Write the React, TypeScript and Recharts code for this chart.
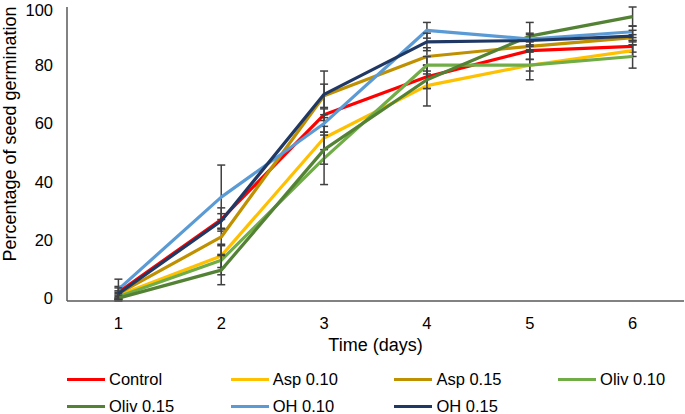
import React from 'react';
import { LineChart, Line, XAxis, YAxis, ErrorBar, Legend } from 'recharts';

const days = ['1', '2', '3', '4', '5', '6'];
const yTicks = [0, 20, 40, 60, 80, 100];

const control = [2, 27, 63, 76, 85, 86.5];
const asp010 = [1, 14.5, 55, 73, 80, 85];
const asp015 = [1.5, 21, 69.5, 83, 86.5, 89.5];
const oliv010 = [0.5, 13, 48, 80, 80, 83];
const oliv015 = [0, 9.6, 51, 75, 90, 96.7];
const oh010 = [3, 34.7, 60, 92, 89, 91.5];
const oh015 = [1.5, 26.5, 70, 88, 88.5, 90];

const controlErr = [2, 4, 2, 4, 3, 2];
const asp010Err = [1, 4, 4, 7, 5, 2];
const asp015Err = [1, 6, 4, 3, 2, 1];
const oliv010Err = [1, 5, 9, 3, 2, 4];
const oliv015Err = [1, 5, 5, 3, 4.7, 3.3];
const oh010Err = [3.5, 11, 3, 2.7, 2, 2];
const oh015Err = [2, 2.5, 8, 3, 2, 2];

const seriesNames = ['Control', 'Asp 0.10', 'Asp 0.15', 'Oliv 0.10', 'Oliv 0.15', 'OH 0.10', 'OH 0.15'];
const seriesKeys = ['control', 'asp010', 'asp015', 'oliv010', 'oliv015', 'oh010', 'oh015'];
const seriesColors = ['#FF0000', '#FFC000', '#BF9000', '#70AD47', '#548235', '#5B9BD5', '#203864'];
const seriesValues = [control, asp010, asp015, oliv010, oliv015, oh010, oh015];
const seriesErrors = [controlErr, asp010Err, asp015Err, oliv010Err, oliv015Err, oh010Err, oh015Err];

const data = days.map((d, i) => {
  const row: Record<string, any> = { day: d };
  seriesKeys.forEach((k, s) => {
    row[k] = seriesValues[s][i];
    row[k + 'Err'] = seriesErrors[s][i];
  });
  return row;
});

const FONT = '"Liberation Sans", Arial, sans-serif';
const AXIS = '#595959';

const renderLegend = () => (
  <div style={{ position: 'relative', width: 685, height: 58, fontFamily: FONT, fontSize: 16.5, color: '#000' }}>
    {seriesNames.map((name, i) => {
      const col = i % 4;
      const row = Math.floor(i / 4);
      return (
        <div
          key={name}
          style={{
            position: 'absolute',
            left: 67 + col * 163.7,
            top: 13 + row * 27.5,
            height: 20,
            display: 'flex',
            alignItems: 'center',
            whiteSpace: 'nowrap',
          }}
        >
          <span style={{ display: 'inline-block', width: 38, height: 3, background: seriesColors[i], marginRight: 4 }} />
          <span>{name}</span>
        </div>
      );
    })}
  </div>
);

const YLabel = (props: any) => {
  const vb = props.viewBox || { x: 0, y: 0, height: 0 };
  const cx = 10;
  const cy = 134;
  return (
    <text
      x={cx}
      y={cy}
      transform={`rotate(-90 ${cx} ${cy})`}
      textAnchor="middle"
      dominantBaseline="central"
      fontFamily={FONT}
      fontSize={18}
      fill="#000"
    >
      Percentage of seed germination
    </text>
  );
};

export default function App() {
  return (
    <div style={{ position: 'absolute', left: 0, top: 0, width: 685, height: 414, background: '#fff' }}>
      <LineChart width={685} height={414} data={data} margin={{ top: 7, right: 1, bottom: 0, left: 0 }}>
        <XAxis
          dataKey="day"
          height={55}
          padding={{ left: 51.4, right: 51.4 }}
          tickLine={false}
          axisLine={{ stroke: AXIS, strokeWidth: 1.5 }}
          tick={{ fill: '#000', fontSize: 16.5, fontFamily: FONT }}
          tickMargin={10}
          label={{ value: 'Time (days)', position: 'insideBottom', offset: 5, fill: '#000', fontSize: 18, fontFamily: FONT }}
        />
        <XAxis
          xAxisId="top"
          orientation="top"
          dataKey="day"
          height={0}
          padding={{ left: 51.4, right: 51.4 }}
          tick={false}
          tickLine={false}
          axisLine={{ stroke: AXIS, strokeWidth: 1.5 }}
        />
        <YAxis
          width={67}
          domain={[0, 100]}
          ticks={yTicks}
          tickLine={false}
          axisLine={{ stroke: AXIS, strokeWidth: 1.5 }}
          tick={{ fill: '#000', fontSize: 16.5, fontFamily: FONT }}
          tickMargin={8}
          label={<YLabel />}
        />
        <YAxis
          yAxisId="right"
          orientation="right"
          width={0}
          domain={[0, 100]}
          tick={false}
          tickLine={false}
          axisLine={{ stroke: AXIS, strokeWidth: 1.5 }}
        />
        <Legend verticalAlign="bottom" height={58} content={renderLegend} />
        {seriesKeys.map((k, i) => (
          <Line
            key={k}
            type="linear"
            dataKey={k}
            name={seriesNames[i]}
            stroke={seriesColors[i]}
            strokeWidth={3.2}
            strokeLinejoin="round"
            dot={false}
            activeDot={false}
            isAnimationActive={false}
          >
            <ErrorBar dataKey={k + 'Err'} width={4} stroke="#404040" strokeWidth={1.5} direction="y" />
          </Line>
        ))}
      </LineChart>
    </div>
  );
}
